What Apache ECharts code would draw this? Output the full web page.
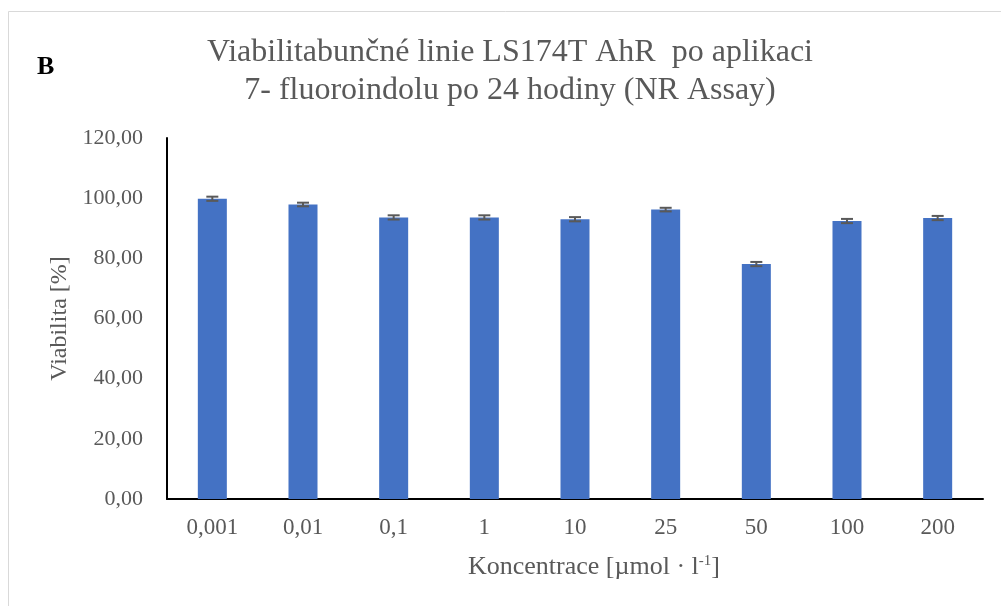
<!DOCTYPE html>
<html>
<head>
<meta charset="utf-8">
<script src="https://cdn.jsdelivr.net/npm/echarts@6/dist/echarts.min.js"></script>
<style>
html,body{margin:0;padding:0;background:#fff;}
#chart{width:1001px;height:606px;}
</style>
</head>
<body>
<div id="chart"></div>
<script>
var categories = ['0,001', '0,01', '0,1', '1', '10', '25', '50', '100', '200'];
var values = [99.8, 97.9, 93.6, 93.6, 93.0, 96.2, 78.1, 92.4, 93.4];
var errors = [0.7, 0.6, 0.7, 0.7, 0.7, 0.6, 0.7, 0.7, 0.7];
var yTicks = [0, 20, 40, 60, 80, 100, 120];

var FONT = '"Liberation Serif", "Times New Roman", serif';
var GRAY = '#595959';

var errData = categories.map(function (c, i) {
  return [i, values[i] - errors[i], values[i] + errors[i]];
});

var chart = echarts.init(document.getElementById('chart'));
chart.setOption({
  backgroundColor: '#fff',
  animation: false,
  title: {
    text: 'Viabilitabunčné linie LS174T AhR  po aplikaci\n7- fluoroindolu po 24 hodiny (NR Assay)',
    left: 505,
    textAlign: 'center',
    top: 29,
    textStyle: { fontFamily: FONT, fontSize: 32, fontWeight: 'normal', color: GRAY, lineHeight: 38 }
  },
  graphic: [
    { type: 'rect', shape: { x: 8.5, y: 11.5, width: 1100, height: 700 },
      style: { fill: 'none', stroke: '#d9d9d9', lineWidth: 1 }, silent: true },
    { type: 'text', left: 37, top: 54,
      style: { text: 'B', font: 'bold 26px ' + FONT, fill: '#000' } }
  ],
  grid: { left: 167, right: 18, top: 138, bottom: 107 },
  xAxis: {
    type: 'category',
    data: categories,
    axisLine: { lineStyle: { color: '#000', width: 2 } },
    axisTick: { show: false },
    axisLabel: { fontFamily: FONT, fontSize: 23, color: GRAY, margin: 17 },
    name: 'Koncentrace [µmol · l{sup|-1}]',
    nameLocation: 'middle',
    nameGap: 55,
    nameMoveOverlap: false,
    nameTextStyle: {
      fontFamily: FONT, fontSize: 26, color: GRAY, padding: [0, 0, 0, 38],
      rich: { sup: { fontFamily: FONT, fontSize: 15, color: GRAY, verticalAlign: 'top', padding: [0, 0, 9, 0] } }
    }
  },
  yAxis: {
    type: 'value',
    min: 0, max: 120, interval: 20,
    axisLine: { show: true, lineStyle: { color: '#000', width: 2 } },
    axisTick: { show: false },
    splitLine: { show: false },
    axisLabel: {
      fontFamily: FONT, fontSize: 22, color: GRAY, margin: 24,
      formatter: function (v) { return yTicks.indexOf(v) >= 0 ? v.toFixed(2).replace('.', ',') : ''; }
    },
    name: 'Viabilita [%]',
    nameLocation: 'middle',
    nameGap: 95,
    nameMoveOverlap: false,
    nameTextStyle: { fontFamily: FONT, fontSize: 24, color: GRAY }
  },
  series: [
    {
      type: 'bar',
      data: values,
      barWidth: '32%',
      itemStyle: { color: '#4472C4' }
    },
    {
      type: 'custom',
      data: errData,
      z: 5,
      renderItem: function (params, api) {
        var x = api.value(0);
        var lo = api.coord([x, api.value(1)]);
        var hi = api.coord([x, api.value(2)]);
        var hw = 6;
        var st = { stroke: GRAY, lineWidth: 2 };
        return {
          type: 'group',
          children: [
            { type: 'line', shape: { x1: hi[0], y1: hi[1], x2: lo[0], y2: lo[1] }, style: st },
            { type: 'line', shape: { x1: hi[0] - hw, y1: hi[1], x2: hi[0] + hw, y2: hi[1] }, style: st },
            { type: 'line', shape: { x1: lo[0] - hw, y1: lo[1], x2: lo[0] + hw, y2: lo[1] }, style: st }
          ]
        };
      }
    }
  ]
});
</script>
</body>
</html>
